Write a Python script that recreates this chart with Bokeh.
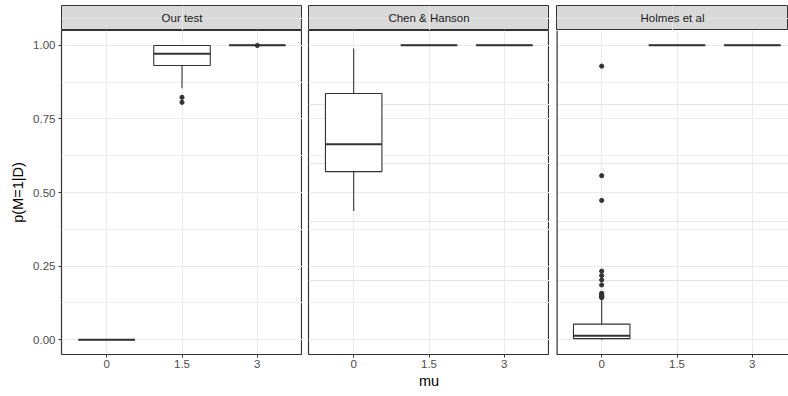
from bokeh.plotting import figure
from bokeh.layouts import row, column
from bokeh.models import FactorRange, Range1d, FixedTicker, Grid, Span
from bokeh.embed import file_html
from bokeh.resources import INLINE
from bokeh.core.properties import value

# ---------------- data ----------------
panels = ["Our test", "Chen & Hanson", "Holmes et al"]
mu_labels = ["0", "1.5", "3"]

y_ticks = [0.0, 0.25, 0.5, 0.75, 1.0]
y_tick_labels = ["0.00", "0.25", "0.50", "0.75", "1.00"]
y_minor = [0.125, 0.375, 0.625, 0.875]

# Our test
our_lower = [0.0, 0.854, 1.0]
our_q1 = [0.0, 0.931, 1.0]
our_median = [0.0, 0.971, 1.0]
our_q3 = [0.0, 0.999, 1.0]
our_upper = [0.0, 1.0, 1.0]
our_out_mu = ["1.5", "1.5", "3"]
our_out_val = [0.823, 0.806, 0.999]

# Chen & Hanson
chen_lower = [0.437, 1.0, 1.0]
chen_q1 = [0.571, 1.0, 1.0]
chen_median = [0.664, 1.0, 1.0]
chen_q3 = [0.836, 1.0, 1.0]
chen_upper = [0.989, 1.0, 1.0]
chen_out_mu = []
chen_out_val = []

# Holmes et al
holmes_lower = [0.0, 1.0, 1.0]
holmes_q1 = [0.004, 1.0, 1.0]
holmes_median = [0.0136, 1.0, 1.0]
holmes_q3 = [0.053, 1.0, 1.0]
holmes_upper = [0.140, 1.0, 1.0]
holmes_out_mu = ["0"] * 13
holmes_out_val = [0.929, 0.557, 0.473, 0.233, 0.218, 0.203, 0.186,
                  0.158, 0.154, 0.150, 0.147, 0.145, 0.143]

# ---------------- styling ----------------
FONT = "Liberation Sans"
BORDER = "#333333"
GRID = "#EBEBEB"
BOX_W = 0.75
PX_PER_UNIT = 241 / 3.2

pos = {lab: i + 1 for i, lab in enumerate(mu_labels)}
xs = [pos[m] for m in mu_labels]


def make_strip(name, left, fw):
    s = figure(frame_width=fw, frame_height=25,
               x_range=FactorRange(factors=[name]), y_range=FactorRange(factors=[name]),
               x_axis_location=None, y_axis_location=None,
               output_backend="svg", toolbar_location=None,
               min_border_left=left, min_border_right=0, min_border_top=5, min_border_bottom=0)
    s.background_fill_color = "#D9D9D9"
    s.border_fill_color = "white"
    s.outline_line_color = BORDER
    s.outline_line_width = 1.0
    s.text(x=[name], y=[name], text=[name], text_align="center", text_baseline="middle",
           text_font=value(FONT), text_font_size="11.5px", text_color="#1A1A1A")
    return s


def make_panel(lo, q1, med, q3, hi, out_mu, out_val, left, fw, show_y, xlabel, outline=True):
    x_end = 0.4 + fw / PX_PER_UNIT
    p = figure(frame_width=fw, frame_height=324,
               x_range=Range1d(0.4, x_end), y_range=Range1d(-0.05, 1.05),
               y_axis_location="left" if show_y else None,
               output_backend="svg", toolbar_location=None,
               min_border_left=left, min_border_right=0, min_border_top=0, min_border_bottom=42)
    p.background_fill_color = "white"
    p.border_fill_color = "white"
    if outline:
        p.outline_line_color = BORDER
        p.outline_line_width = 1.2
    else:
        p.outline_line_color = None

    xticker = FixedTicker(ticks=xs, minor_ticks=[])
    yticker = FixedTicker(ticks=y_ticks, minor_ticks=y_minor)

    # x axis
    xa = p.xaxis[0]
    xa.ticker = xticker
    xa.major_label_overrides = {pos[m]: m for m in mu_labels}
    xa.major_label_text_font = FONT
    xa.major_label_text_font_size = "11.5px"
    xa.major_label_text_color = "#4D4D4D"
    xa.major_tick_in = 0
    xa.major_tick_out = 3
    xa.major_tick_line_color = BORDER
    xa.minor_tick_line_color = None
    xa.major_label_standoff = 2
    xa.axis_line_color = BORDER if not outline else None
    xa.axis_line_width = 1.2
    if xlabel:
        xa.axis_label = xlabel
        xa.axis_label_text_font = FONT
        xa.axis_label_text_font_size = "14.5px"
        xa.axis_label_text_font_style = "normal"
        xa.axis_label_text_color = "black"
        xa.axis_label_standoff = 2
    p.xgrid.ticker = xticker
    p.xgrid.grid_line_color = GRID
    p.xgrid.grid_line_width = 1

    if show_y:
        ya = p.yaxis[0]
        ya.ticker = yticker
        ya.major_label_overrides = dict(zip(y_ticks, y_tick_labels))
        ya.major_label_text_font = FONT
        ya.major_label_text_font_size = "11.5px"
        ya.major_label_text_color = "#4D4D4D"
        ya.major_tick_in = 0
        ya.major_tick_out = 3
        ya.major_tick_line_color = BORDER
        ya.minor_tick_line_color = None
        ya.major_label_standoff = 2
        ya.axis_line_color = None
        ya.axis_label = "p(M=1|D)"
        ya.axis_label_text_font = FONT
        ya.axis_label_text_font_size = "14.5px"
        ya.axis_label_text_font_style = "normal"
        ya.axis_label_text_color = "black"
        ya.axis_label_standoff = 4
        p.ygrid.ticker = yticker
        yg = p.ygrid[0]
    else:
        yg = Grid(dimension=1, ticker=yticker)
        p.add_layout(yg)
    yg.grid_line_color = GRID
    yg.grid_line_width = 1
    yg.minor_grid_line_color = "#F0F0F0"
    yg.minor_grid_line_width = 1

    if not outline:
        p.add_layout(Span(location=0.4, dimension="height", line_color=BORDER, line_width=2.4))

    # boxplots
    p.segment(x0=xs, y0=q3, x1=xs, y1=hi, line_color=BORDER, line_width=1.1)
    p.segment(x0=xs, y0=q1, x1=xs, y1=lo, line_color=BORDER, line_width=1.1)
    p.vbar(x=xs, width=BOX_W, bottom=q1, top=q3, fill_color="white",
           line_color=BORDER, line_width=1.1)
    p.segment(x0=[x - BOX_W / 2 for x in xs], y0=med, x1=[x + BOX_W / 2 for x in xs], y1=med,
              line_color=BORDER, line_width=2)
    if out_val:
        p.scatter(x=[pos[m] for m in out_mu], y=out_val, size=4.2,
                  fill_color=BORDER, line_color=BORDER)
    return p


s1 = make_strip(panels[0], 61, 241)
s2 = make_strip(panels[1], 6, 241)
s3 = make_strip(panels[2], 7, 232)

p1 = make_panel(our_lower, our_q1, our_median, our_q3, our_upper, our_out_mu, our_out_val,
                61, 241, True, None)
p2 = make_panel(chen_lower, chen_q1, chen_median, chen_q3, chen_upper, chen_out_mu, chen_out_val,
                6, 241, False, "mu")
p3 = make_panel(holmes_lower, holmes_q1, holmes_median, holmes_q3, holmes_upper,
                holmes_out_mu, holmes_out_val, 7, 232, False, None, outline=False)

layout = column(row(s1, s2, s3), row(p1, p2, p3))

open("out.html", "w").write(file_html(layout, INLINE))
